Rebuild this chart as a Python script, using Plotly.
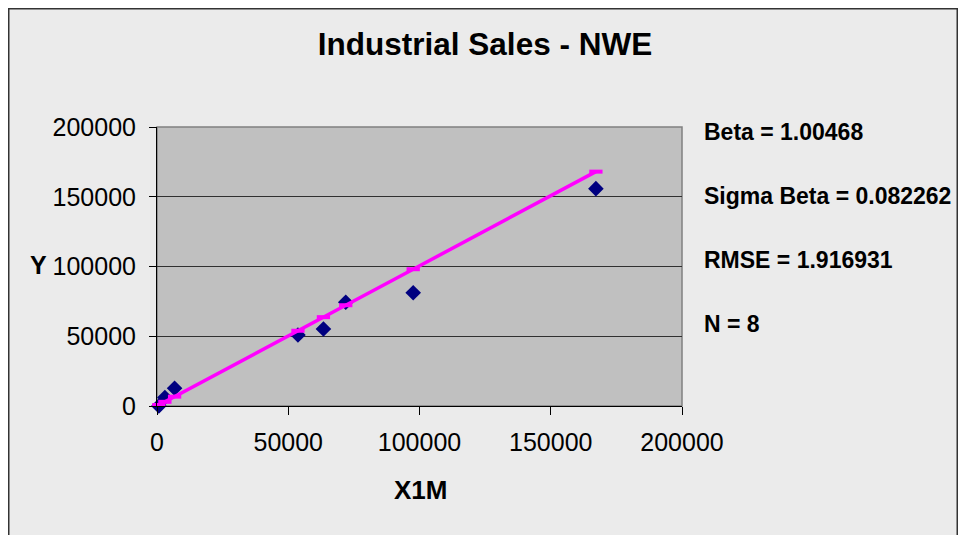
import plotly.graph_objects as go

# Data
x1m = [700, 3000, 6700, 53700, 63400, 71900, 97600, 167200]
y_actual = [0, 6100, 12700, 50900, 55200, 74400, 81200, 155800]
y_fitted = [700, 3000, 6700, 53950, 63700, 72240, 98060, 168000]

title_text = "Industrial Sales - NWE"
stats_lines = ["Beta = 1.00468", "Sigma Beta = 0.082262", "RMSE = 1.916931", "N = 8"]
tick_vals = [0, 50000, 100000, 150000, 200000]

# page body has an 8px margin; figure coordinates are window coords minus 8
OFF = 8
W, H = 966 - 2 * OFF, 535 - OFF
L, R, T, B = 157 - OFF, 682 - OFF, 127 - OFF, 406 - OFF

def px(x):
    return (x - OFF - L) / (R - L)

def py(y):
    return (B - (y - OFF)) / (B - T)

FONT = "Liberation Sans, Arial, sans-serif"

fig = go.Figure()
fig.add_trace(go.Scatter(
    x=x1m, y=y_actual, mode="markers",
    marker=dict(symbol="diamond", size=12, color="#000080", line=dict(width=0)),
    showlegend=False, cliponaxis=False))
fig.add_trace(go.Scatter(
    x=x1m, y=y_fitted, mode="lines+markers",
    line=dict(color="#FF00FF", width=3.5),
    marker=dict(symbol="line-ew", size=9.5, color="#FF00FF",
                line=dict(width=4, color="#FF00FF")),
    showlegend=False, cliponaxis=False))

shapes = [
    # outer chart border
    dict(type="rect", xref="paper", yref="paper",
         x0=px(OFF + 0.75), x1=px(966 - OFF - 0.75), y0=py(560), y1=py(OFF + 0.75),
         line=dict(color="#333333", width=1.5), fillcolor="rgba(0,0,0,0)", layer="below"),
    # plot area border (gray)
    dict(type="rect", xref="paper", yref="paper", x0=0, x1=1, y0=0, y1=1,
         line=dict(color="#808080", width=1.5), fillcolor="rgba(0,0,0,0)", layer="below"),
]

annotations = [
    dict(text="<b>Y</b>", xref="paper", yref="paper", x=px(38), y=py(265),
         xanchor="center", yanchor="middle", showarrow=False,
         font=dict(family=FONT, size=25, color="black")),
    dict(text="<b>X1M</b>", xref="paper", yref="paper", x=px(420), y=py(490),
         xanchor="center", yanchor="middle", showarrow=False,
         font=dict(family=FONT, size=26, color="black")),
]
for i, s in enumerate(stats_lines):
    annotations.append(dict(text="<b>" + s + "</b>", xref="paper", yref="paper",
                            x=px(702), y=py(131.5 + 64 * i), xanchor="left", yanchor="middle",
                            showarrow=False, font=dict(family=FONT, size=23, color="black")))

fig.update_layout(
    width=W, height=H,
    margin=dict(l=L, r=W - R, t=T, b=H - B, pad=0),
    paper_bgcolor="#EBEBEB", plot_bgcolor="#C0C0C0",
    title=dict(text="<b>" + title_text + "</b>", x=(485 - OFF) / W, xanchor="center",
               y=1 - 36 / H, yanchor="middle", yref="container",
               font=dict(family=FONT, size=31.5, color="black")),
    font=dict(family=FONT, size=25, color="black"),
    xaxis=dict(range=[0, 200000], tickvals=tick_vals, ticktext=[str(v) for v in tick_vals],
               showgrid=False, zeroline=False, showline=True, linecolor="black", linewidth=1,
               ticks="outside", ticklen=8, tickcolor="black", tickwidth=1,
               tickfont=dict(family=FONT, size=25, color="black"), ticklabelstandoff=6),
    yaxis=dict(range=[0, 200000], tickvals=tick_vals, ticktext=[str(v) for v in tick_vals],
               showgrid=True, gridcolor="#303030", gridwidth=1.2, zeroline=False,
               showline=True, linecolor="black", linewidth=1,
               ticks="outside", ticklen=7, tickcolor="black", tickwidth=1,
               tickfont=dict(family=FONT, size=25, color="black"), ticklabelstandoff=8),
    shapes=shapes, annotations=annotations,
)

fig.write_html("out.html")
